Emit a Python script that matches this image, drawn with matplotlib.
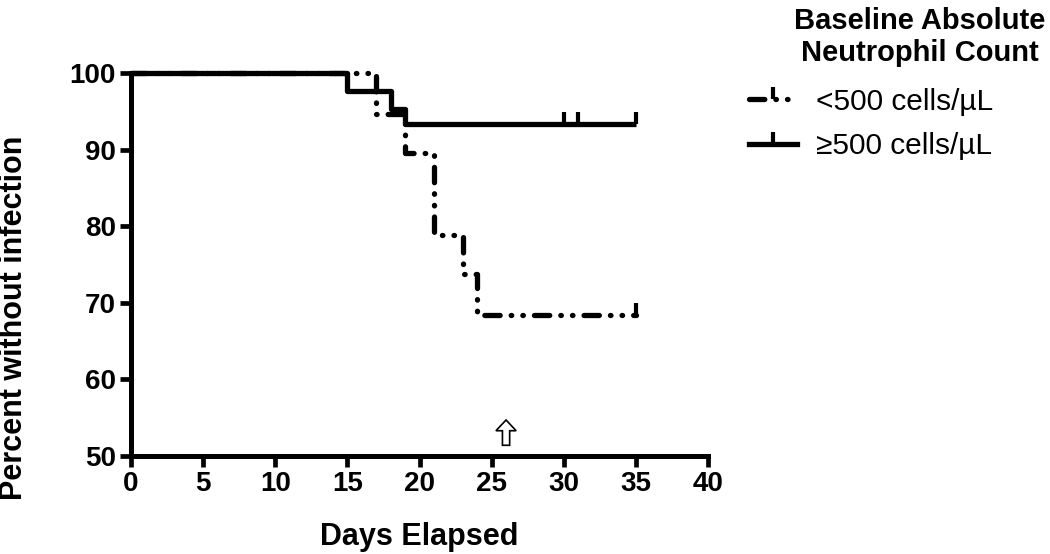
import matplotlib.pyplot as plt
from matplotlib.lines import Line2D

plt.rcParams['font.family'] = ['Liberation Sans', 'DejaVu Sans']

# Kaplan-Meier steps
lt500_days = [0, 17, 19, 21, 23, 24, 35]
lt500_pct = [100, 94.7, 89.5, 78.9, 73.7, 68.4, 68.4]
lt500_censor_days = [35]
lt500_censor_pct = [68.4]

ge500_days = [0, 15, 18, 19, 35]
ge500_pct = [100, 97.6, 95.3, 93.3, 93.3]
ge500_censor_days = [30, 31, 35]
ge500_censor_pct = [93.3, 93.3, 93.3]

x_ticks = [0, 5, 10, 15, 20, 25, 30, 35, 40]
y_ticks = [50, 60, 70, 80, 90, 100]
arrow_day = 26

lw = 3.8
dash = (2.9, 2.1, 0.1, 2.1, 0.1, 2.1)

fig = plt.figure(figsize=(10.5, 5.54), dpi=100)
ax = fig.add_axes([131 / 1050, 1 - 456 / 554, 577 / 1050, 383 / 554])

ax.plot(ge500_days, ge500_pct, drawstyle='steps-post', color='black',
        lw=lw, clip_on=False, solid_capstyle='butt')
ax.plot(ge500_censor_days, ge500_censor_pct, linestyle='none', marker=2,
        ms=9, mew=3, color='black', clip_on=False)

ax.plot(lt500_days, lt500_pct, drawstyle='steps-post', color='black',
        lw=lw, linestyle=(0, dash), dash_capstyle='round', clip_on=False)
ax.plot(lt500_censor_days, lt500_censor_pct, linestyle='none', marker=2,
        ms=9, mew=3, color='black', clip_on=False)

# hollow arrow
ax.arrow(arrow_day, 51.4, 0, 1.9, width=0.5, head_width=1.4, head_length=1.4,
         fc='white', ec='black', lw=1.2, clip_on=False)

ax.set_xlim(0, 40)
ax.set_ylim(50, 100)
ax.set_xticks(x_ticks)
ax.set_yticks(y_ticks)
for s in ['top', 'right']:
    ax.spines[s].set_visible(False)
for s in ['left', 'bottom']:
    ax.spines[s].set_linewidth(3.6)
ax.tick_params(direction='out', length=8, width=3.4, labelsize=20, pad=3)
for lab in ax.get_xticklabels() + ax.get_yticklabels():
    lab.set_fontweight('bold')

ax.set_xlabel('Days Elapsed', fontsize=22, fontweight='bold')
ax.xaxis.set_label_coords(0.5, -0.172)
ax.set_ylabel('Percent without infection', fontsize=22, fontweight='bold')
ax.yaxis.set_label_coords(-0.176, 0.36)

fig.text(920 / 1050, 1 - 37 / 554, 'Baseline Absolute\nNeutrophil Count',
         ha='center', va='center', fontsize=21, fontweight='bold',
         linespacing=1.15)

handles = [
    Line2D([], [], color='black', lw=lw, linestyle=(0, dash), marker=2,
           ms=9, mew=3, dash_capstyle='round'),
    Line2D([], [], color='black', lw=lw, marker=2, ms=9, mew=3),
]
labels = ['<500 cells/µL', '≥500 cells/µL']
leg = fig.legend(handles, labels, loc='upper left',
                 bbox_to_anchor=(737 / 1050, 1 - 76 / 554), frameon=False,
                 fontsize=21.5, handlelength=1.6, numpoints=1,
                 labelspacing=0.55, handletextpad=0.65, borderaxespad=0)

fig.savefig('out.png', dpi=100)
